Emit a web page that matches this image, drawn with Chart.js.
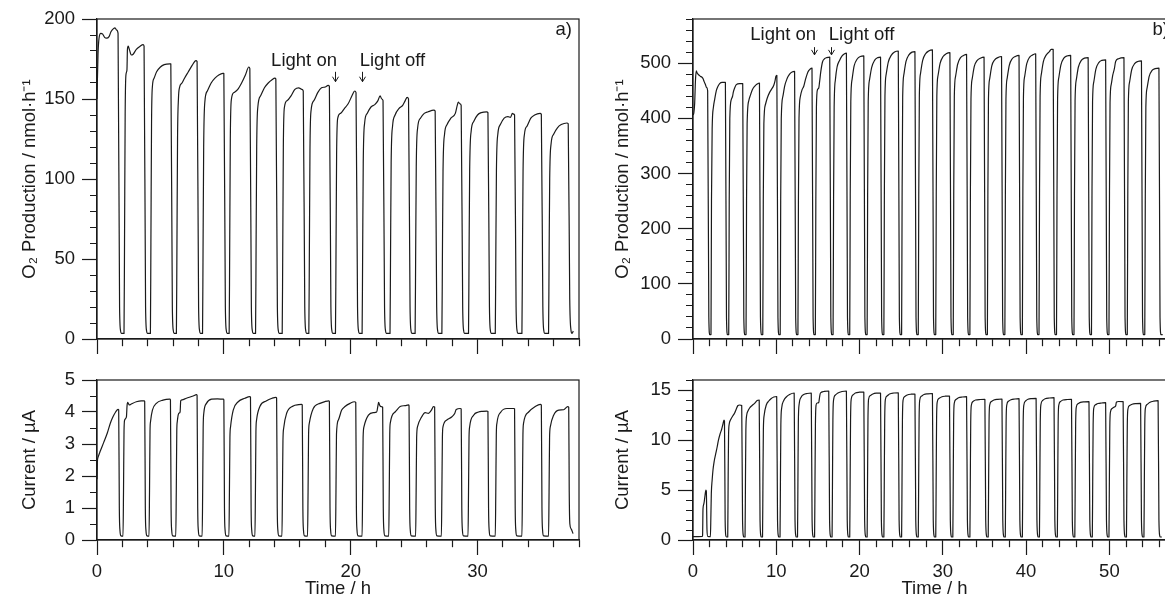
<!DOCTYPE html>
<html><head><meta charset="utf-8">
<script src="https://cdn.jsdelivr.net/npm/chart.js@4.4.1/dist/chart.umd.min.js"></script>
<style>
html,body{margin:0;padding:0;background:#fff;overflow:hidden;}
#wrap{position:relative;width:1165px;height:599px;overflow:hidden;background:#fff;}
#wrap canvas{position:absolute;}
</style></head><body>
<div id="wrap">
<canvas id="ta" width="600" height="360" style="left:0;top:0"></canvas>
<canvas id="tb" width="600" height="360" style="left:600px;top:0"></canvas>
<canvas id="ba" width="600" height="245" style="left:0;top:360px"></canvas>
<canvas id="bb" width="600" height="245" style="left:600px;top:360px"></canvas>
</div>
<script>
const FONT = "'Liberation Sans', Arial, Helvetica, sans-serif";
const INK = '#1a1a1a';

const timeTitle = 'Time / h';
const o2Title = 'O\u2082 Production / nmol\u00b7h\u207b\u00b9';
const curTitle = 'Current / \u00b5A';
const panelA = 'a)';
const panelB = 'b)';

// ---- panel a) O2 production [time h, nmol/h]
const o2A = [
[0,150],[0.08,178],[0.16,188],[0.3,191],[0.45,190.5],[0.6,188.5],[0.75,188],[0.95,189],[1.1,192],[1.3,194],[1.42,194.5],[1.55,193],[1.66,191],[1.78,20],[1.86,5],[1.92,3.5],[2.13,3.5],
[2.17,60],[2.22,140],[2.28,165],[2.36,168],[2.4,181],[2.46,183],[2.55,181],[2.7,177.5],[2.85,178],[3.1,181],[3.4,183],[3.63,184],[3.71,183],[3.83,20],[3.91,5],[3.97,3.5],[4.21,3.5],
[4.25,60],[4.3,135],[4.37,158],[4.5,163],[4.7,167],[5.0,170],[5.3,171.5],[5.75,172],[5.82,172],[5.94,20],[6.02,5],[6.08,3.5],[6.26,3.5],
[6.3,55],[6.35,125],[6.42,150],[6.5,157],[6.7,160],[6.9,163],[7.2,167],[7.5,171],[7.8,174],[7.89,173.5],[8.01,20],[8.09,5],[8.15,3.5],[8.32,3.5],
[8.36,55],[8.41,120],[8.5,148],[8.7,155],[9.0,160],[9.3,163],[9.6,165],[9.92,166],[10.0,166],[10.12,20],[10.2,5],[10.26,3.5],[10.42,3.5],
[10.46,55],[10.51,125],[10.6,150],[10.8,154],[11.1,156],[11.4,160],[11.7,165],[11.97,170],[12.05,169],[12.17,20],[12.25,5],[12.31,3.5],[12.5,3.5],
[12.54,55],[12.59,120],[12.68,145],[12.9,152],[13.2,157],[13.5,160],[13.8,162],[14.02,163],[14.1,162.5],[14.22,20],[14.3,5],[14.36,3.5],[14.6,3.5],
[14.64,50],[14.69,120],[14.78,145],[15.0,149],[15.3,152],[15.6,156],[15.9,157],[16.15,156],[16.26,155],[16.38,20],[16.46,5],[16.52,3.5],[16.7,3.5],
[16.74,50],[16.79,118],[16.88,143],[17.1,149],[17.4,154],[17.7,157],[18.0,157.5],[18.22,158.5],[18.32,158],[18.44,20],[18.52,5],[18.58,3.5],[18.8,3.5],
[18.84,50],[18.89,115],[18.98,138],[19.2,141],[19.5,144],[19.8,147],[20.1,152],[20.32,155],[20.42,154],[20.54,20],[20.62,5],[20.68,3.5],[20.9,3.5],
[20.94,50],[20.99,110],[21.1,135],[21.3,141],[21.6,145],[21.9,146.5],[22.15,149],[22.32,152],[22.45,150],[22.55,149],[22.67,20],[22.75,5],[22.81,3.5],[23.1,3.5],
[23.14,50],[23.19,110],[23.3,133],[23.5,140],[23.8,144],[24.1,146],[24.3,149],[24.45,151],[24.56,150],[24.68,20],[24.76,5],[24.82,3.5],[25.08,3.5],
[25.12,50],[25.17,108],[25.28,132],[25.5,138],[25.8,141],[26.1,142],[26.55,143],[26.66,142.5],[26.78,20],[26.86,5],[26.92,3.5],[27.19,3.5],
[27.23,50],[27.28,105],[27.4,128],[27.6,134],[27.9,138],[28.25,141],[28.4,146],[28.48,148],[28.62,147],[28.71,146],[28.83,20],[28.91,5],[28.97,3.5],[29.29,3.5],
[29.33,50],[29.38,105],[29.5,130],[29.7,136],[30.0,140],[30.3,141.5],[30.72,142],[30.82,141.5],[30.94,20],[31.02,5],[31.08,3.5],[31.4,3.5],
[31.44,50],[31.49,105],[31.6,128],[31.8,134],[32.1,138],[32.4,139],[32.6,138.5],[32.75,141],[32.85,140.5],[32.92,140],[33.04,20],[33.12,5],[33.18,3.5],[33.5,3.5],
[33.54,50],[33.59,105],[33.7,128],[33.9,133],[34.2,138],[34.5,140],[34.93,141],[35.03,140.5],[35.15,20],[35.23,5],[35.29,3.5],[35.6,3.5],
[35.64,48],[35.69,100],[35.8,122],[36.0,128],[36.3,132],[36.6,134],[37.05,135],[37.15,134.5],[37.27,25],[37.36,6],[37.45,3.5],[37.55,5]
];

// ---- panel a) current [time h, µA]
const curA = [
[0,1.9],[0.03,2.45],[0.08,2.58],[0.26,2.78],[0.53,3.05],[0.82,3.35],[1.05,3.65],[1.26,3.85],[1.47,4.0],[1.66,4.08],[1.71,4.07],[1.76,1.0],[1.81,0.3],[1.89,0.13],[2.05,0.12],
[2.09,1.5],[2.13,3.4],[2.18,3.75],[2.32,3.85],[2.37,4.2],[2.42,4.3],[2.55,4.22],[2.7,4.25],[3.1,4.32],[3.5,4.35],[3.72,4.35],[3.76,4.33],[3.81,1.0],[3.86,0.3],[3.94,0.13],[4.1,0.12],
[4.14,1.5],[4.18,3.4],[4.22,3.7],[4.37,4.06],[4.68,4.27],[5.2,4.37],[5.74,4.4],[5.79,4.38],[5.84,1.0],[5.89,0.3],[5.97,0.13],[6.21,0.12],
[6.25,1.5],[6.29,3.4],[6.33,3.7],[6.45,3.96],[6.55,4.0],[6.6,4.35],[6.7,4.38],[7.05,4.43],[7.58,4.5],[7.84,4.54],[7.89,4.52],[7.94,1.0],[7.99,0.3],[8.07,0.13],[8.29,0.12],
[8.33,1.5],[8.37,3.5],[8.42,3.96],[8.63,4.27],[9.03,4.4],[9.5,4.41],[9.96,4.4],[10.0,4.38],[10.05,1.0],[10.1,0.3],[10.18,0.13],[10.4,0.12],
[10.44,1.5],[10.48,3.2],[10.53,3.54],[10.74,4.06],[11.13,4.32],[11.66,4.43],[12.05,4.48],[12.1,4.46],[12.15,1.0],[12.2,0.3],[12.28,0.13],[12.45,0.12],
[12.49,1.5],[12.53,3.4],[12.58,3.75],[12.84,4.17],[13.37,4.35],[13.8,4.43],[14.1,4.46],[14.16,4.44],[14.21,1.0],[14.26,0.3],[14.34,0.13],[14.58,0.12],
[14.62,1.5],[14.66,3.1],[14.72,3.5],[14.95,3.96],[15.47,4.19],[15.9,4.23],[16.13,4.24],[16.18,4.22],[16.23,1.0],[16.28,0.3],[16.36,0.13],[16.6,0.12],
[16.64,1.5],[16.68,3.3],[16.74,3.65],[17.05,4.11],[17.58,4.27],[18.0,4.33],[18.26,4.35],[18.32,4.33],[18.37,1.0],[18.42,0.3],[18.5,0.13],[18.8,0.12],
[18.84,1.5],[18.88,3.3],[19.03,3.75],[19.29,4.06],[19.55,4.17],[19.95,4.27],[20.3,4.32],[20.4,4.3],[20.45,1.0],[20.5,0.3],[20.58,0.13],[20.9,0.12],
[20.94,1.5],[20.98,3.2],[21.05,3.54],[21.4,3.9],[21.8,3.98],[22.05,4.0],[22.15,4.2],[22.2,4.3],[22.3,4.2],[22.4,4.17],[22.52,4.15],[22.57,1.0],[22.62,0.3],[22.7,0.13],[23.0,0.12],
[23.04,1.5],[23.08,3.3],[23.12,3.65],[23.5,4.0],[23.9,4.17],[24.3,4.2],[24.56,4.22],[24.6,4.2],[24.65,1.0],[24.7,0.3],[24.78,0.13],[25.12,0.12],
[25.16,1.5],[25.2,3.2],[25.27,3.54],[25.6,3.85],[25.87,3.98],[26.13,3.96],[26.35,4.05],[26.53,4.17],[26.62,4.16],[26.67,1.0],[26.72,0.3],[26.8,0.13],[27.15,0.12],
[27.19,1.5],[27.23,3.2],[27.28,3.54],[27.58,3.75],[27.98,3.85],[28.2,3.95],[28.32,4.08],[28.64,4.11],[28.71,4.1],[28.76,1.0],[28.81,0.3],[28.89,0.13],[29.25,0.12],
[29.29,1.5],[29.33,3.2],[29.38,3.54],[29.69,3.9],[30.08,4.0],[30.4,4.02],[30.74,4.03],[30.82,4.02],[30.87,1.0],[30.92,0.3],[31.0,0.13],[31.4,0.12],
[31.44,1.5],[31.48,3.3],[31.53,3.65],[31.84,4.0],[32.32,4.11],[32.84,4.11],[32.92,4.1],[32.97,1.0],[33.02,0.3],[33.1,0.13],[33.5,0.12],
[33.54,1.5],[33.58,3.3],[33.63,3.65],[34.03,4.0],[34.55,4.17],[34.95,4.24],[35.03,4.22],[35.08,1.0],[35.13,0.3],[35.21,0.13],[35.6,0.12],
[35.64,1.5],[35.68,3.2],[35.74,3.54],[36.0,3.9],[36.4,4.06],[36.79,4.07],[37.11,4.17],[37.19,4.15],[37.23,1.5],[37.28,0.5],[37.38,0.35],[37.53,0.2]
];

// ---- panel b) O2 production
const o2B = [
[0,406],[0.1,410],[0.2,427],[0.3,470],[0.4,486],[0.5,482],[0.6,480],[0.75,478],[0.9,476],[1.05,475],[1.2,472],[1.35,466],[1.5,461],[1.62,456],[1.76,450],[1.9,40],[2.01,8],
[2.16,8],[2.22,250],[2.3,380],[2.45,420],[2.6,434],[2.8,450],[3.0,458],[3.2,463],[3.5,465],[3.89,465],[4.02,40],[4.14,8],
[4.29,8],[4.35,250],[4.42,400],[4.6,434],[4.75,440],[4.85,448],[5.0,455],[5.2,461],[5.6,463],[5.97,463],[6.1,40],[6.22,8],
[6.37,8],[6.43,250],[6.5,390],[6.7,432],[6.9,442],[7.1,451],[7.4,458],[7.7,462],[7.98,464],[8.1,40],[8.23,8],
[8.38,8],[8.44,250],[8.51,390],[8.7,425],[8.9,436],[9.2,447],[9.4,452],[9.7,460],[9.85,468],[9.95,476],[10.07,478],[10.2,40],[10.32,8],
[10.47,8],[10.53,250],[10.6,400],[10.8,440],[11.0,458],[11.3,472],[11.6,480],[11.9,484],[12.2,485],[12.33,40],[12.45,8],
[12.6,8],[12.66,250],[12.73,400],[12.9,440],[13.1,452],[13.3,458],[13.5,470],[13.8,484],[14.05,489],[14.29,491],[14.42,40],[14.54,8],
[14.69,8],[14.75,250],[14.82,420],[14.95,452],[15.1,455],[15.2,466],[15.35,485],[15.55,502],[15.8,508],[16.05,510],[16.42,511],[16.55,40],[16.67,8],
[16.82,8],[16.88,250],[16.95,420],[17.1,470],[17.3,493],[17.6,505],[17.9,513],[18.2,517],[18.42,518],[18.55,40],[18.67,8],
[18.82,8],[18.88,260],[18.95,430],[19.1,470],[19.35,495],[19.7,507],[20.1,512],[20.51,513],[20.64,40],[20.76,8],
[20.91,8],[20.97,260],[21.04,430],[21.2,470],[21.45,492],[21.8,505],[22.2,510],[22.52,511],[22.65,40],[22.77,8],
[22.92,8],[22.98,260],[23.05,440],[23.2,480],[23.45,502],[23.8,514],[24.2,520],[24.65,522],[24.78,40],[24.9,8],
[25.05,8],[25.11,260],[25.18,440],[25.33,480],[25.58,503],[25.93,515],[26.3,520],[26.65,521],[26.78,40],[26.9,8],
[27.05,8],[27.11,260],[27.18,440],[27.33,482],[27.58,505],[27.93,517],[28.3,522],[28.75,524],[28.88,40],[29.0,8],
[29.15,8],[29.21,260],[29.28,440],[29.43,478],[29.68,500],[30.03,512],[30.4,517],[30.85,519],[30.98,40],[31.1,8],
[31.25,8],[31.31,260],[31.38,440],[31.53,476],[31.78,498],[32.13,510],[32.5,514],[32.85,516],[32.98,40],[33.1,8],
[33.25,8],[33.31,260],[33.38,435],[33.53,472],[33.78,494],[34.13,505],[34.5,509],[34.95,511],[35.08,40],[35.2,8],
[35.35,8],[35.41,260],[35.48,435],[35.63,472],[35.88,495],[36.23,506],[36.6,510],[37.05,512],[37.18,40],[37.3,8],
[37.45,8],[37.51,260],[37.58,435],[37.73,473],[37.98,496],[38.33,508],[38.7,512],[39.15,514],[39.28,40],[39.4,8],
[39.55,8],[39.61,260],[39.68,438],[39.83,476],[40.08,499],[40.43,511],[40.8,515],[41.15,517],[41.28,40],[41.4,8],
[41.55,8],[41.61,260],[41.68,440],[41.83,480],[42.08,503],[42.43,515],[42.8,521],[43.0,525],[43.25,525],[43.38,40],[43.5,8],
[43.65,8],[43.71,260],[43.78,435],[43.93,474],[44.18,497],[44.53,509],[44.9,513],[45.35,514],[45.48,40],[45.6,8],
[45.75,8],[45.81,260],[45.88,432],[46.03,470],[46.28,493],[46.63,505],[47.0,509],[47.45,510],[47.58,40],[47.7,8],
[47.85,8],[47.91,255],[47.98,430],[48.13,466],[48.38,489],[48.73,501],[49.1,505],[49.55,506],[49.68,40],[49.8,8],
[49.95,8],[50.01,255],[50.08,428],[50.23,462],[50.4,478],[50.6,490],[50.75,503],[51.1,508],[51.75,510],[51.88,40],[52.0,8],
[52.15,8],[52.21,255],[52.28,430],[52.43,466],[52.68,488],[53.03,499],[53.4,503],[53.85,504],[53.98,40],[54.1,8],
[54.25,8],[54.31,250],[54.38,420],[54.53,455],[54.78,476],[55.13,487],[55.5,490],[55.95,491],[56.08,40],[56.2,8],[56.4,8]
];

// ---- panel b) current
const curB = [
[0,0.33],[1.1,0.35],[1.15,0.45],[1.2,3.1],[1.3,3.6],[1.45,4.5],[1.55,5.0],[1.6,4.9],[1.68,1.0],[1.78,0.35],[2.09,0.33],
[2.15,2.5],[2.2,4.65],[2.3,6.0],[2.4,7.0],[2.55,7.9],[2.73,8.63],[2.9,9.3],[3.05,9.96],[3.25,10.6],[3.45,11.1],[3.6,11.6],[3.72,12.0],[3.78,11.9],[3.86,2.0],[3.95,0.4],[4.02,0.3],
[4.17,0.3],[4.22,6],[4.27,10.5],[4.35,11.6],[4.5,12.0],[4.7,12.3],[5.0,12.7],[5.2,13.1],[5.4,13.45],[5.6,13.5],[5.85,13.45],[5.95,2],[6.05,0.4],[6.1,0.3],
[6.25,0.3],[6.3,6],[6.35,11],[6.45,12.5],[6.6,12.9],[6.8,13.2],[7.1,13.45],[7.4,13.66],[7.7,13.95],[7.95,14.0],[8.05,2],[8.15,0.4],[8.2,0.3],
[8.35,0.3],[8.4,6],[8.45,11],[8.55,12.5],[8.8,13.5],[9.1,13.9],[9.4,14.15],[9.7,14.3],[10.05,14.35],[10.15,2],[10.25,0.4],[10.3,0.3],
[10.45,0.3],[10.5,6],[10.55,11.5],[10.65,13.2],[10.9,13.95],[11.2,14.3],[11.6,14.55],[12.15,14.7],[12.25,2],[12.35,0.4],[12.4,0.3],
[12.55,0.3],[12.6,6],[12.65,11.8],[12.75,13.6],[13.0,14.3],[13.3,14.55],[13.7,14.65],[14.2,14.7],[14.3,2],[14.4,0.4],[14.45,0.3],
[14.6,0.3],[14.65,6],[14.7,11.5],[14.78,13.5],[14.9,13.7],[15.1,13.75],[15.2,14.3],[15.3,14.7],[15.7,14.85],[16.3,14.9],[16.4,2],[16.5,0.4],[16.55,0.3],
[16.7,0.3],[16.75,6],[16.8,12],[16.88,14.0],[17.1,14.5],[17.4,14.7],[17.9,14.85],[18.42,14.9],[18.52,2],[18.62,0.4],[18.67,0.3],
[18.82,0.3],[18.87,6],[18.92,12],[19.0,14.1],[19.2,14.5],[19.5,14.7],[20.0,14.78],[20.51,14.8],[20.61,2],[20.71,0.4],[20.76,0.3],
[20.91,0.3],[20.96,6],[21.01,12],[21.09,14.1],[21.3,14.45],[21.6,14.6],[22.0,14.68],[22.52,14.7],[22.62,2],[22.72,0.4],[22.77,0.3],
[22.92,0.3],[22.97,6],[23.02,12],[23.1,14.05],[23.3,14.4],[23.6,14.6],[24.1,14.7],[24.65,14.72],[24.75,2],[24.85,0.4],[24.9,0.3],
[25.05,0.3],[25.1,6],[25.15,12],[25.23,14.0],[25.43,14.35],[25.73,14.5],[26.2,14.58],[26.65,14.6],[26.75,2],[26.85,0.4],[26.9,0.3],
[27.05,0.3],[27.1,6],[27.15,12],[27.23,14.0],[27.43,14.38],[27.73,14.55],[28.2,14.62],[28.75,14.65],[28.85,2],[28.95,0.4],[29.0,0.3],
[29.15,0.3],[29.2,6],[29.25,12],[29.33,13.8],[29.53,14.15],[29.83,14.3],[30.3,14.38],[30.8,14.4],[30.9,2],[31.0,0.4],[31.05,0.3],
[31.2,0.3],[31.25,6],[31.3,12],[31.38,13.7],[31.58,14.05],[31.88,14.22],[32.35,14.3],[32.85,14.33],[32.95,2],[33.05,0.4],[33.1,0.3],
[33.25,0.3],[33.3,6],[33.35,11.8],[33.43,13.5],[33.63,13.85],[33.93,14.0],[34.5,14.05],[35.05,14.07],[35.15,2],[35.25,0.4],[35.3,0.3],
[35.45,0.3],[35.5,6],[35.55,11.8],[35.63,13.5],[35.83,13.85],[36.13,14.0],[36.6,14.07],[37.1,14.1],[37.2,2],[37.3,0.4],[37.35,0.3],
[37.5,0.3],[37.55,6],[37.6,11.8],[37.68,13.5],[37.88,13.88],[38.18,14.03],[38.65,14.1],[39.15,14.13],[39.25,2],[39.35,0.4],[39.4,0.3],
[39.55,0.3],[39.6,6],[39.65,11.8],[39.73,13.5],[39.93,13.9],[40.23,14.07],[40.7,14.14],[41.2,14.17],[41.3,2],[41.4,0.4],[41.45,0.3],
[41.6,0.3],[41.65,6],[41.7,11.8],[41.78,13.55],[41.98,13.95],[42.28,14.12],[42.8,14.2],[43.35,14.23],[43.45,2],[43.55,0.4],[43.6,0.3],
[43.75,0.3],[43.8,6],[43.85,11.8],[43.93,13.5],[44.13,13.85],[44.43,14.0],[44.95,14.05],[45.45,14.07],[45.55,2],[45.65,0.4],[45.7,0.3],
[45.85,0.3],[45.9,6],[45.95,11.6],[46.03,13.3],[46.23,13.62],[46.53,13.76],[47.0,13.81],[47.55,13.83],[47.65,2],[47.75,0.4],[47.8,0.3],
[47.95,0.3],[48.0,6],[48.05,11.5],[48.13,13.2],[48.33,13.52],[48.63,13.65],[49.1,13.7],[49.55,13.73],[49.65,2],[49.75,0.4],[49.8,0.3],
[49.95,0.3],[50.0,6],[50.05,11.2],[50.13,12.8],[50.33,13.15],[50.6,13.3],[50.75,13.4],[50.85,13.8],[51.1,13.85],[51.65,13.83],[51.75,2],[51.85,0.4],[51.9,0.3],
[52.05,0.3],[52.1,6],[52.15,11.4],[52.23,13.1],[52.43,13.45],[52.73,13.58],[53.2,13.64],[53.75,13.66],[53.85,2],[53.95,0.4],[54.0,0.3],
[54.15,0.3],[54.2,6],[54.25,11.5],[54.33,13.2],[54.53,13.55],[54.83,13.75],[55.3,13.88],[55.85,13.93],[55.95,2],[56.05,0.4],[56.1,0.3],[56.3,0.3]
];

// ---- annotations (data coordinates)
const notesA = [{text:'Light on', t:18.76, v:170.8, side:'right'}, {text:'Light off', t:20.87, v:170.8, side:'left'}];
const arrowsA = [{t:18.76, from:167, to:160.8}, {t:20.87, from:167, to:160.8}];
const notesB = [{text:'Light on', t:14.54, v:542, side:'right'}, {text:'Light off', t:16.55, v:542, side:'left'}];
const arrowsB = [{t:14.54, from:529, to:515}, {t:16.55, from:529, to:515}];

const isMult = (v, m) => Math.abs(v / m - Math.round(v / m)) < 1e-6;

function notesPlugin(panel, notes, arrows) {
  return {
    id: 'notes',
    afterDraw(chart) {
      const {ctx, chartArea: a, scales: {x, y}} = chart;
      ctx.save();
      ctx.strokeStyle = INK; ctx.lineWidth = 1.2;
      ctx.strokeRect(a.left, a.top, a.right - a.left, a.bottom - a.top);
      ctx.fillStyle = INK;
      ctx.font = '18.5px ' + FONT;
      ctx.textBaseline = 'alphabetic';
      if (panel) { ctx.textAlign = 'right'; ctx.fillText(panel, a.right - 7, a.top + 16); }
      notes.forEach(n => {
        ctx.textAlign = n.side;
        const px = x.getPixelForValue(n.t) + (n.side === 'right' ? 2 : -2);
        ctx.fillText(n.text, px, y.getPixelForValue(n.v));
      });
      ctx.lineWidth = 1;
      arrows.forEach(ar => {
        const px = Math.round(x.getPixelForValue(ar.t)) + 0.5;
        const y0 = y.getPixelForValue(ar.from), y1 = y.getPixelForValue(ar.to);
        ctx.beginPath();
        ctx.moveTo(px, y0); ctx.lineTo(px, y1);
        ctx.moveTo(px - 3, y1 - 5); ctx.lineTo(px, y1); ctx.lineTo(px + 3, y1 - 5);
        ctx.stroke();
      });
      ctx.restore();
    }
  };
}

function xScale(max, height, showLabels) {
  return {
    type: 'linear', position: 'bottom', min: 0, max: max,
    afterFit: s => { s.height = height; },
    ticks: { stepSize: 2, autoSkip: false, maxRotation: 0, minRotation: 0, padding: 6, color: INK,
      font: { family: FONT, size: 18.5 },
      callback: v => (showLabels && isMult(v, 10)) ? String(v) : '' },
    grid: { drawOnChartArea: false, drawTicks: true, tickLength: 15, tickWidth: 1.2, tickColor: INK,
      tickBorderDash: c => (c.tick && !isMult(c.tick.value, 10)) ? [7, 100] : [] },
    border: { display: true, color: INK, width: 1.2 },
    title: { display: showLabels, text: timeTitle, color: INK, font: { family: FONT, size: 18.5 }, padding: { top: 0, bottom: 5 } }
  };
}

function yScale(max, step, every, width, title, titlePad) {
  return {
    type: 'linear', position: 'left', min: 0, max: max,
    afterFit: s => { s.width = width; },
    ticks: { stepSize: step, autoSkip: false, padding: 7, color: INK,
      font: { family: FONT, size: 18.5 },
      callback: v => isMult(v, every) ? String(Math.round(v)) : '' },
    grid: { drawOnChartArea: false, drawTicks: true, tickLength: 15, tickWidth: 1.2, tickColor: INK,
      tickBorderDash: c => (c.tick && !isMult(c.tick.value, every)) ? [0, 8, 7, 100] : [] },
    border: { display: true, color: INK, width: 1.2 },
    title: { display: true, text: title, color: INK, font: { family: FONT, size: 18.5 }, padding: { top: titlePad, bottom: 0 } }
  };
}

function makeChart(id, pts, xs, ys, pad, plugin) {
  new Chart(document.getElementById(id), {
    type: 'line',
    data: { datasets: [{ data: pts.map(p => ({ x: p[0], y: p[1] })), borderColor: INK, borderWidth: 1.2,
      pointRadius: 0, fill: false, cubicInterpolationMode: 'monotone', borderJoinStyle: 'round' }] },
    options: {
      responsive: false, animation: false, devicePixelRatio: 1,
      layout: { padding: pad },
      plugins: { legend: { display: false }, tooltip: { enabled: false } },
      scales: { x: xs, y: ys }
    },
    plugins: [plugin]
  });
}

makeChart('ta', o2A, xScale(38, 21, false), yScale(200, 10, 50, 97, o2Title, 19),
  { left: 0, top: 19, right: 21, bottom: 0 }, notesPlugin(panelA, notesA, arrowsA));
makeChart('tb', o2B, xScale(58, 21, false), yScale(580, 20, 100, 93, o2Title, 12),
  { left: 0, top: 19, right: 24, bottom: 0 }, notesPlugin(panelB, notesB, arrowsB));
makeChart('ba', curA, xScale(38, 65, true), yScale(5, 0.5, 1, 97, curTitle, 19),
  { left: 0, top: 20, right: 21, bottom: 0 }, notesPlugin('', [], []));
makeChart('bb', curB, xScale(58, 65, true), yScale(16, 1, 5, 93, curTitle, 12),
  { left: 0, top: 20, right: 24, bottom: 0 }, notesPlugin('', [], []));
</script>
</body></html>
